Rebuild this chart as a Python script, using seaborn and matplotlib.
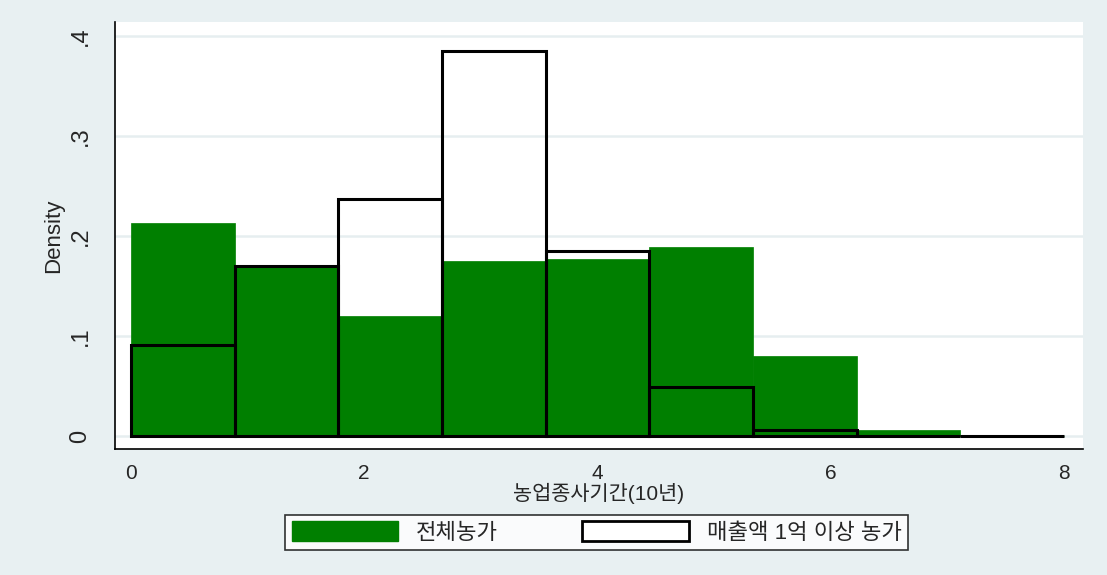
import numpy as np
import pandas as pd
import matplotlib
matplotlib.use('Agg')
import matplotlib.pyplot as plt
from matplotlib.patches import Patch
import seaborn as sns

# 9 equal bins from 0 to 8
bin_range = (0, 8)
n_bins = 9
bin_edges = np.linspace(bin_range[0], bin_range[1], n_bins + 1)
bin_mids = (bin_edges[:-1] + bin_edges[1:]) / 2

# density per bin
dens_all = [0.213, 0.169, 0.120, 0.175, 0.177, 0.189, 0.080, 0.006, 0.0]
dens_large = [0.091, 0.170, 0.237, 0.385, 0.185, 0.049, 0.006, 0.0, 0.0]

label_all = '전체농가'
label_large = '매출액 1억 이상 농가'
x_label = '농업종사기간(10년)'
y_ticks = [0, 0.1, 0.2, 0.3, 0.4]
y_ticklabels = ['0', '.1', '.2', '.3', '.4']
x_ticks = [0, 2, 4, 6, 8]

df = pd.DataFrame({'mid': bin_mids, 'all': dens_all, 'large': dens_large})

sns.set_style('white')
plt.rcParams['font.family'] = ['Liberation Sans', 'Noto Sans CJK KR']

bg = '#e8f0f2'
green = '#007f00'

fig = plt.figure(figsize=(11.07, 5.75), dpi=100)
fig.patch.set_facecolor(bg)
ax = fig.add_axes([115 / 1107, 1 - 449 / 575, (1083 - 115) / 1107, (449 - 22) / 575])
ax.set_facecolor('white')

# green filled histogram
sns.histplot(data=df, x='mid', weights='all', bins=n_bins, binrange=bin_range,
             stat='count', color=green, alpha=1, edgecolor=green, linewidth=0.5, ax=ax)
# outline-only histogram
sns.histplot(data=df, x='mid', weights='large', bins=n_bins, binrange=bin_range,
             stat='count', fill=False, color='black', linewidth=2.2, ax=ax)

ax.set_xlim(-0.137, 8.163)
ax.set_ylim(-0.013, 0.414)
ax.set_xticks(x_ticks)
ax.set_xticklabels([str(t) for t in x_ticks], fontsize=15)
ax.set_yticks(y_ticks)
ax.set_yticklabels(y_ticklabels, fontsize=17, rotation=90, va='center')
ax.tick_params(axis='both', direction='out', length=6, width=1, color='black')
ax.tick_params(axis='y', pad=11)
ax.tick_params(axis='x', pad=5)

ax.yaxis.grid(True, color='#e6eef0', linewidth=1.8)
ax.set_axisbelow(True)
for s in ['top', 'right']:
    ax.spines[s].set_visible(False)
for s in ['left', 'bottom']:
    ax.spines[s].set_color('black')
    ax.spines[s].set_linewidth(1.2)

ax.set_xlabel(x_label, fontsize=15, labelpad=0)
ax.set_ylabel('Density', fontsize=16, labelpad=4)

handles = [Patch(facecolor=green, edgecolor=green, label=label_all),
           Patch(facecolor='white', edgecolor='black', linewidth=2, label=label_large)]
leg = fig.legend(handles=handles, loc='center', bbox_to_anchor=(0.539, 0.074), ncol=2,
                 fontsize=16, frameon=True, fancybox=False, edgecolor='black',
                 handlelength=4.8, handleheight=1.0, handletextpad=0.8,
                 columnspacing=3.8, borderpad=0.3)
leg.get_frame().set_linewidth(1.2)
leg.get_frame().set_facecolor('white')

fig.savefig('out.png', dpi=100, facecolor=fig.get_facecolor())
